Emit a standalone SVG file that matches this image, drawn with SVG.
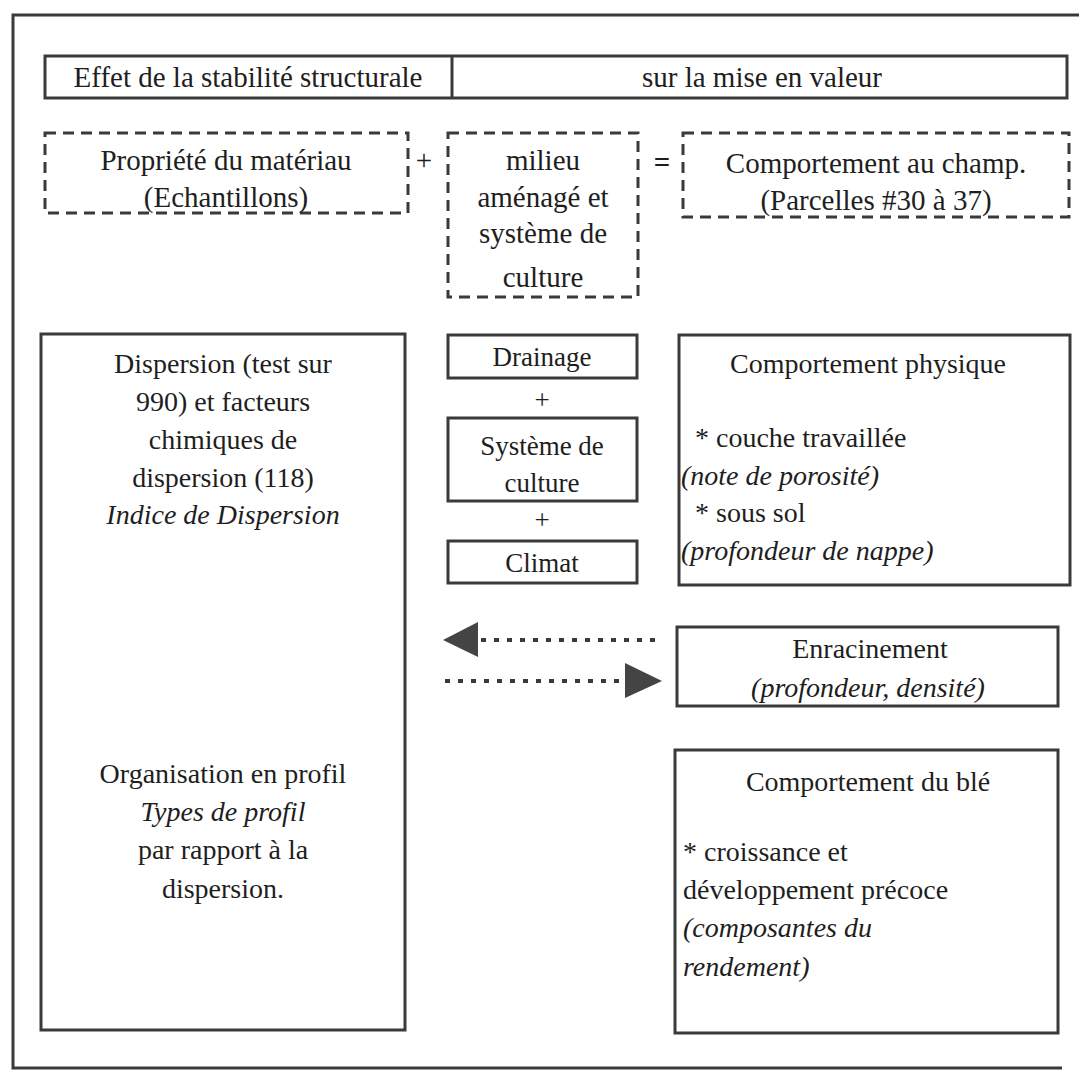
<svg xmlns="http://www.w3.org/2000/svg" width="1079" height="1073" viewBox="0 0 1079 1073">
<style>
.frame{fill:none;stroke:#3a3a3a;stroke-width:3}
.box{fill:#fff;stroke:#3a3a3a;stroke-width:3}
.dash{fill:#fff;stroke:#3a3a3a;stroke-width:3;stroke-dasharray:11 7}
.dot{fill:none;stroke:#3a3a3a;stroke-width:4;stroke-dasharray:5 8}
.t{font-family:"Liberation Serif","Times New Roman",serif;font-size:28px;fill:#1e1e1e}
.m{font-family:"Liberation Serif","Times New Roman",serif;font-size:27px;fill:#1e1e1e}
.h{font-family:"Liberation Serif","Times New Roman",serif;font-size:29px;fill:#1e1e1e}
.c{text-anchor:middle}
.i{font-style:italic}
</style>
<rect width="1079" height="1073" fill="#fff"/>
<path id="frame" class="frame" d="M1079,15 L13,15 L13,1068 L1062,1068"/>

<g id="header">
<rect class="box" x="45" y="56" width="1022" height="42"/>
<line x1="452" y1="56" x2="452" y2="98" stroke="#3a3a3a" stroke-width="3"/>
<text class="h c" x="248" y="87">Effet de la stabilité structurale</text>
<text class="h c" x="762" y="87">sur la mise en valeur</text>
</g>

<g id="materiau">
<rect class="dash" x="45" y="133" width="363" height="80"/>
<text class="h c" x="226" y="170">Propriété du  matériau</text>
<text class="h c" x="226" y="207">(Echantillons)</text>
</g>
<text class="h c" x="424" y="170">+</text>
<g id="milieu">
<rect class="dash" x="448" y="133" width="190" height="164"/>
<text class="h c" x="543" y="170">milieu</text>
<text class="h c" x="543" y="207">aménagé et</text>
<text class="h c" x="543" y="243">système de</text>
<text class="h c" x="543" y="287">culture</text>
</g>
<text class="h c" x="662" y="172" font-weight="bold">=</text>
<g id="champ">
<rect class="dash" x="683" y="133" width="386" height="84"/>
<text class="h c" x="876" y="173">Comportement au champ.</text>
<text class="h c" x="876" y="210">(Parcelles #30 à 37)</text>
</g>

<g id="dispersion">
<rect class="box" x="41" y="334" width="364" height="696"/>
<text class="t c" x="223" y="373">Dispersion (test sur</text>
<text class="t c" x="223" y="411">990) et facteurs</text>
<text class="t c" x="223" y="449">chimiques de</text>
<text class="t c" x="223" y="487">dispersion (118)</text>
<text class="t c i" x="223" y="524">Indice de Dispersion</text>
<text class="t c" x="223" y="783">Organisation en profil</text>
<text class="t c i" x="223" y="821">Types de profil</text>
<text class="t c" x="223" y="859">par rapport à la</text>
<text class="t c" x="223" y="898">dispersion.</text>
</g>

<g id="drainage">
<rect class="box" x="448" y="335" width="189" height="43"/>
<text class="m c" x="542" y="366">Drainage</text>
</g>
<text class="m c" x="542" y="409">+</text>
<g id="systeme">
<rect class="box" x="448" y="418" width="189" height="83"/>
<text class="m c" x="542" y="455">Système de</text>
<text class="m c" x="542" y="492">culture</text>
</g>
<text class="m c" x="542" y="529">+</text>
<g id="climat">
<rect class="box" x="448" y="541" width="189" height="42"/>
<text class="m c" x="542" y="572">Climat</text>
</g>

<g id="physique">
<rect class="box" x="679" y="335" width="391" height="250"/>
<text class="t c" x="868" y="373">Comportement physique</text>
<text class="t" x="695" y="447">* couche travaillée</text>
<text class="t i" x="681" y="485">(note de porosité)</text>
<text class="t" x="695" y="522">* sous sol</text>
<text class="t i" x="681" y="560">(profondeur de nappe)</text>
</g>

<g id="enracinement">
<rect class="box" x="677" y="627" width="381" height="79"/>
<text class="t c" x="870" y="658">Enracinement</text>
<text class="t c i" x="868" y="697">(profondeur, densité)</text>
</g>

<g id="ble">
<rect class="box" x="675" y="750" width="383" height="283"/>
<text class="t c" x="868" y="791">Comportement du blé</text>
<text class="t" x="683" y="861">* croissance et</text>
<text class="t" x="683" y="899">développement précoce</text>
<text class="t i" x="683" y="937">(composantes du</text>
<text class="t i" x="683" y="976">rendement)</text>
</g>

<g id="connectors">
<line class="dot" x1="655" y1="640" x2="478" y2="640"/>
<path d="M478,622 L443,640 L478,657 z" fill="#444"/>
<line class="dot" x1="445" y1="681" x2="625" y2="681"/>
<path d="M625,663 L662,681 L625,698 z" fill="#444"/>
</g>
</svg>
